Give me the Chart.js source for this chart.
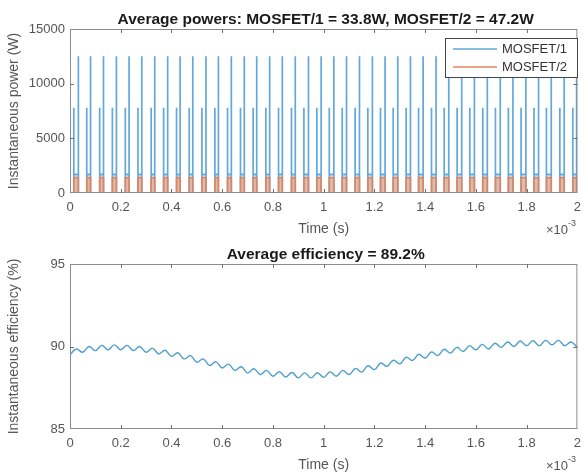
<!DOCTYPE html>
<html>
<head>
<meta charset="utf-8">
<script src="https://cdn.jsdelivr.net/npm/chart.js@4.4.1/dist/chart.umd.min.js"></script>
<style>
  html, body { margin: 0; padding: 0; background: #fff; }
  #wrap { position: relative; width: 588px; height: 475px; }
  #powerBox { position: absolute; left: 0; top: 0; width: 588px; height: 240px; }
  #effBox { position: absolute; left: 0; top: 240px; width: 588px; height: 235px; }
</style>
</head>
<body>
<div id="wrap">
  <div id="powerBox"><canvas id="powerChart" width="588" height="240"></canvas></div>
  <div id="effBox"><canvas id="effChart" width="588" height="235"></canvas></div>
</div>
<script>
// time axis is in units of 1e-3 s (shown as x10^-3 under the axis)
const timeTicks = [0, 0.2, 0.4, 0.6, 0.8, 1, 1.2, 1.4, 1.6, 1.8, 2];
const powerTicks = [0, 5000, 10000, 15000];
const effTicks = [85, 90, 95];

// switching events
const turnOnTimes = [0.015, 0.066, 0.117, 0.167, 0.218, 0.268, 0.320, 0.369, 0.420, 0.470,
                     0.520, 0.571, 0.621, 0.672, 0.722, 0.772, 0.822, 0.873, 0.922, 0.973,
                     1.022, 1.073, 1.124, 1.174, 1.224, 1.274, 1.325, 1.374, 1.425, 1.475,
                     1.526, 1.576, 1.627, 1.677, 1.728, 1.778, 1.829, 1.878, 1.931, 1.982];
const turnOffTimes = [0.033, 0.081, 0.132, 0.183, 0.233, 0.283, 0.334, 0.385, 0.434, 0.484,
                      0.536, 0.585, 0.636, 0.687, 0.736, 0.787, 0.837, 0.888, 0.940, 0.990,
                      1.040, 1.090, 1.141, 1.192, 1.242, 1.292, 1.342, 1.392, 1.443, 1.493,
                      1.544, 1.594, 1.645, 1.696, 1.746, 1.797, 1.847, 1.897, 1.948, 1.997];
const mosfet1OnPeak = [7800, 7800, 7800, 7800, 7800, 7800, 7800, 7800, 7800, 7800,
                       7800, 7800, 7800, 7800, 7800, 7800, 7800, 7800, 7800, 7800,
                       7800, 7800, 7800, 7800, 7800, 7800, 7800, 7800, 7800, 7800,
                       7800, 7800, 7800, 7800, 7800, 7800, 7800, 7800, 7800, 7800];
const mosfet1OffPeak = [12500, 12500, 12500, 12500, 12500, 12500, 12500, 12500, 12500, 12500,
                        12500, 12500, 12500, 12500, 12500, 12500, 12500, 12500, 12500, 12500,
                        12500, 12500, 12500, 12500, 12500, 12500, 12500, 12500, 12500, 12500,
                        12500, 12500, 12500, 12500, 12500, 12500, 12500, 12500, 12500, 12500];
const mosfet1Plateau = [1700, 1700, 1700, 1700, 1700, 1700, 1700, 1700, 1700, 1700,
                        1700, 1700, 1700, 1700, 1700, 1700, 1700, 1700, 1700, 1700,
                        1700, 1700, 1700, 1700, 1700, 1700, 1700, 1700, 1700, 1700,
                        1700, 1700, 1700, 1700, 1700, 1700, 1700, 1700, 1700, 1700];
const mosfet2Level = [1400, 1400, 1400, 1400, 1400, 1400, 1400, 1400, 1400, 1400,
                      1400, 1400, 1400, 1400, 1400, 1400, 1400, 1400, 1400, 1400,
                      1400, 1400, 1400, 1400, 1400, 1400, 1400, 1400, 1400, 1400,
                      1400, 1400, 1400, 1400, 1400, 1400, 1400, 1400, 1400, 1400];
const mosfet2StartPeak = 16000;

// efficiency trace, read every 0.025e-3 s
const effTime = [0, 0.025, 0.05, 0.075, 0.1, 0.125, 0.15, 0.175, 0.2, 0.225,
                 0.25, 0.275, 0.3, 0.325, 0.35, 0.375, 0.4, 0.425, 0.45, 0.475,
                 0.5, 0.525, 0.55, 0.575, 0.6, 0.625, 0.65, 0.675, 0.7, 0.725,
                 0.75, 0.775, 0.8, 0.825, 0.85, 0.875, 0.9, 0.925, 0.95, 0.975,
                 1, 1.025, 1.05, 1.075, 1.1, 1.125, 1.15, 1.175, 1.2, 1.225,
                 1.25, 1.275, 1.3, 1.325, 1.35, 1.375, 1.4, 1.425, 1.45, 1.475,
                 1.5, 1.525, 1.55, 1.575, 1.6, 1.625, 1.65, 1.675, 1.7, 1.725,
                 1.75, 1.775, 1.8, 1.825, 1.85, 1.875, 1.9, 1.925, 1.95, 1.975, 2];
const effValue = [89.5, 89.85, 89.65, 90.0, 89.75, 90.07, 89.8, 90.1, 89.8, 90.07,
                  89.75, 90.0, 89.65, 89.9, 89.55, 89.77, 89.4, 89.62, 89.25, 89.45,
                  89.05, 89.25, 88.85, 89.07, 88.7, 88.93, 88.55, 88.77, 88.4, 88.65,
                  88.3, 88.55, 88.2, 88.47, 88.15, 88.42, 88.1, 88.4, 88.1, 88.41,
                  88.13, 88.46, 88.2, 88.55, 88.3, 88.67, 88.45, 88.83, 88.6, 89.0,
                  88.8, 89.17, 88.95, 89.35, 89.15, 89.53, 89.3, 89.67, 89.45, 89.83,
                  89.6, 89.95, 89.7, 90.05, 89.8, 90.13, 89.85, 90.2, 89.95, 90.27,
                  90.0, 90.33, 90.05, 90.35, 90.05, 90.37, 90.1, 90.37, 90.05, 90.27, 89.95];

const FONT = "'Liberation Sans', Arial, Helvetica, sans-serif";

// point lists for the line datasets
const m1Points = [{x: 0, y: 0}];
turnOnTimes.forEach((t, i) => {
    const tOff = turnOffTimes[i];
    m1Points.push({x: t, y: 0}, {x: t, y: mosfet1OnPeak[i]}, {x: t, y: mosfet1Plateau[i]},
                  {x: tOff, y: mosfet1Plateau[i]}, {x: tOff, y: mosfet1OffPeak[i]}, {x: tOff, y: 0});
});
m1Points.push({x: 2, y: 0});

const m2Points = [{x: 0, y: mosfet2StartPeak}, {x: 0, y: 0}];
turnOnTimes.forEach((t, i) => {
    const tOff = turnOffTimes[i];
    m2Points.push({x: t, y: 0}, {x: t, y: mosfet2Level[i]}, {x: tOff, y: mosfet2Level[i]}, {x: tOff, y: 0});
});
m2Points.push({x: 2, y: 0});

const effPoints = effTime.map((t, i) => ({x: t, y: effValue[i]}));

// MATLAB-like box, inward ticks, titles and labels
function matlabAxes(cfg) {
    return {
        id: 'matlabAxes',
        afterDraw(chart) {
            const ctx = chart.ctx;
            const a = chart.chartArea;
            const xs = chart.scales.x;
            const ys = chart.scales.y;
            ctx.save();

            ctx.strokeStyle = '#8c8c8c';
            ctx.lineWidth = 1;
            ctx.strokeRect(a.left + 0.5, a.top + 0.5, a.right - a.left - 1, a.bottom - a.top - 1);

            ctx.strokeStyle = '#6e6e6e';
            ctx.beginPath();
            xs.ticks.forEach(t => {
                const px = Math.round(xs.getPixelForValue(t.value)) + 0.5;
                if (px < a.left + 2 || px > a.right - 2) return;
                ctx.moveTo(px, a.bottom); ctx.lineTo(px, a.bottom - 4);
                ctx.moveTo(px, a.top); ctx.lineTo(px, a.top + 4);
            });
            ys.ticks.forEach(t => {
                const py = Math.round(ys.getPixelForValue(t.value)) + 0.5;
                if (py < a.top + 2 || py > a.bottom - 2) return;
                ctx.moveTo(a.left, py); ctx.lineTo(a.left + 4, py);
                ctx.moveTo(a.right, py); ctx.lineTo(a.right - 4, py);
            });
            ctx.stroke();

            const cx = (a.left + a.right) / 2;
            ctx.fillStyle = '#1a1a1a';
            ctx.font = 'bold 15.5px ' + FONT;
            ctx.textAlign = 'center';
            ctx.textBaseline = 'alphabetic';
            ctx.fillText(cfg.title, cx + 2, a.top - 5);

            ctx.fillStyle = '#555';
            ctx.font = '14px ' + FONT;
            ctx.textBaseline = 'middle';
            ctx.fillText('Time (s)', cx, a.bottom + 36);

            ctx.font = '13px ' + FONT;
            ctx.textAlign = 'right';
            ctx.fillText('\u00d710', 568, a.bottom + 37);
            ctx.font = '9px ' + FONT;
            ctx.textAlign = 'left';
            ctx.fillText('-3', 568, a.bottom + 31);

            ctx.save();
            ctx.translate(14, (a.top + a.bottom) / 2);
            ctx.rotate(-Math.PI / 2);
            ctx.font = '14px ' + FONT;
            ctx.textAlign = 'center';
            ctx.fillStyle = '#555';
            ctx.fillText(cfg.ylabel, 0, 0);
            ctx.restore();

            if (cfg.legend) {
                const lx = 445, ly = 38, lw = 132, lh = 39;
                ctx.fillStyle = '#fff';
                ctx.fillRect(lx, ly, lw, lh);
                ctx.strokeStyle = '#444';
                ctx.strokeRect(lx + 0.5, ly + 0.5, lw, lh);
                chart.data.datasets.forEach((ds, i) => {
                    const y = ly + 11 + i * 18;
                    ctx.strokeStyle = ds.borderColor;
                    ctx.lineWidth = 1.6;
                    ctx.beginPath();
                    ctx.moveTo(lx + 8, y); ctx.lineTo(lx + 52, y);
                    ctx.stroke();
                    ctx.fillStyle = '#333';
                    ctx.font = '13px ' + FONT;
                    ctx.textAlign = 'left';
                    ctx.textBaseline = 'middle';
                    ctx.fillText(ds.label, lx + 57, y);
                });
            }
            ctx.restore();
        }
    };
}

function xScale(height) {
    return {
        type: 'linear', min: 0, max: 2,
        afterBuildTicks: s => { s.ticks = timeTicks.map(v => ({value: v})); },
        afterFit: s => { s.height = height; },
        grid: {display: false, drawTicks: false},
        border: {display: false},
        ticks: {font: {family: FONT, size: 13}, color: '#555', padding: 7, maxRotation: 0, autoSkip: false,
                callback: v => String(v)}
    };
}

function yScale(min, max, ticks) {
    return {
        type: 'linear', min: min, max: max,
        afterBuildTicks: s => { s.ticks = ticks.map(v => ({value: v})); },
        afterFit: s => { s.width = 70; },
        grid: {display: false, drawTicks: false},
        border: {display: false},
        ticks: {font: {family: FONT, size: 13}, color: '#555', padding: 5, callback: v => String(v)}
    };
}

new Chart(document.getElementById('powerChart').getContext('2d'), {
    type: 'line',
    data: {
        datasets: [
            {
                label: 'MOSFET/1',
                data: m1Points,
                borderColor: '#62a8da',
                backgroundColor: 'rgba(130,186,228,0.45)',
                borderWidth: 1.7,
                fill: 'origin',
                pointRadius: 0,
                tension: 0,
                order: 1
            },
            {
                label: 'MOSFET/2',
                data: m2Points,
                borderColor: '#e4845a',
                backgroundColor: 'rgba(238,158,122,0.55)',
                borderWidth: 1.6,
                fill: 'origin',
                pointRadius: 0,
                tension: 0,
                order: 0
            }
        ]
    },
    options: {
        responsive: false,
        animation: false,
        layout: {padding: {top: 29, right: 9, left: 0, bottom: 0}},
        plugins: {legend: {display: false}, tooltip: {enabled: false}},
        scales: {x: xScale(47), y: yScale(0, 15000, powerTicks)}
    },
    plugins: [matlabAxes({
        title: 'Average powers: MOSFET/1 = 33.8W, MOSFET/2 = 47.2W',
        ylabel: 'Instantaneous power (W)',
        legend: true
    })]
});

new Chart(document.getElementById('effChart').getContext('2d'), {
    type: 'line',
    data: {
        datasets: [{
            label: 'Efficiency',
            data: effPoints,
            borderColor: '#4f9fcc',
            borderWidth: 1.4,
            fill: false,
            pointRadius: 0,
            tension: 0.4
        }]
    },
    options: {
        responsive: false,
        animation: false,
        layout: {padding: {top: 24, right: 9, left: 0, bottom: 0}},
        plugins: {legend: {display: false}, tooltip: {enabled: false}},
        scales: {x: xScale(46), y: yScale(85, 95, effTicks)}
    },
    plugins: [matlabAxes({
        title: 'Average efficiency = 89.2%',
        ylabel: 'Instantaneous efficiency (%)',
        legend: false
    })]
});
</script>
</body>
</html>
